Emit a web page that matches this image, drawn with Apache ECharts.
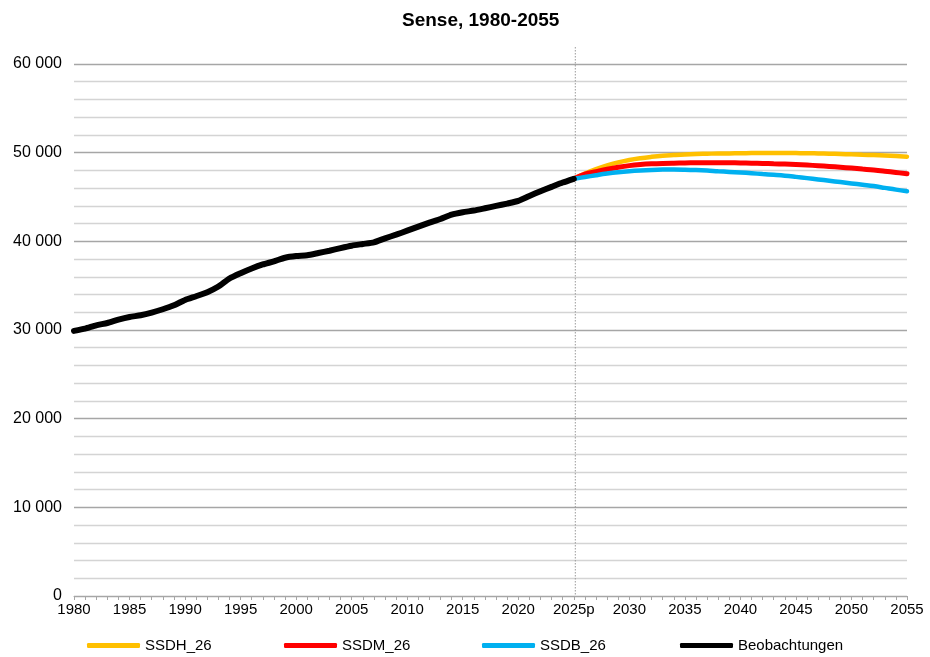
<!DOCTYPE html>
<html>
<head>
<meta charset="utf-8">
<script src="https://cdn.jsdelivr.net/npm/echarts@6/dist/echarts.min.js"></script>
<style>
  html, body { margin: 0; padding: 0; background: #fff; }
  #chart { width: 930px; height: 657px; }
</style>
</head>
<body>
<div id="chart"></div>
<script>
// categories (2025 is marked as provisional)
const years = [
  "1980", "1981", "1982", "1983", "1984", "1985", "1986", "1987", "1988", "1989",
  "1990", "1991", "1992", "1993", "1994", "1995", "1996", "1997", "1998", "1999",
  "2000", "2001", "2002", "2003", "2004", "2005", "2006", "2007", "2008", "2009",
  "2010", "2011", "2012", "2013", "2014", "2015", "2016", "2017", "2018", "2019",
  "2020", "2021", "2022", "2023", "2024", "2025p", "2026", "2027", "2028", "2029",
  "2030", "2031", "2032", "2033", "2034", "2035", "2036", "2037", "2038", "2039",
  "2040", "2041", "2042", "2043", "2044", "2045", "2046", "2047", "2048", "2049",
  "2050", "2051", "2052", "2053", "2054", "2055",
];

// observations 1980 - 2025
const obsYears = years.slice(0, 46);
const beobachtungen = [
  29900, 30150, 30530, 30790, 31170, 31470, 31660, 31960, 32340, 32790,
  33390, 33810, 34260, 34900, 35810, 36410, 36940, 37390, 37740, 38150,
  38340, 38430, 38680, 38940, 39240, 39510, 39700, 39890, 40340, 40750,
  41200, 41660, 42110, 42520, 43010, 43280, 43470, 43730, 44000, 44260,
  44560, 45120, 45650, 46140, 46630, 47050,
];

// scenarios 2025 - 2055
const projYears = years.slice(45);
const ssdh = [
  47050, 47650, 48150, 48550, 48900, 49180, 49380, 49530, 49650, 49730,
  49800, 49850, 49880, 49910, 49920, 49930, 49950, 49960, 49960, 49960,
  49950, 49940, 49910, 49880, 49850, 49810, 49770, 49730, 49680, 49620,
  49550,
];
const ssdm = [
  47050, 47580, 47860, 48130, 48360, 48540, 48660, 48740, 48790, 48820,
  48840, 48860, 48870, 48870, 48860, 48840, 48820, 48790, 48750, 48710,
  48660, 48600, 48530, 48450, 48360, 48260, 48150, 48040, 47910, 47770,
  47620,
];
const ssdb = [
  47050, 47250, 47460, 47650, 47800, 47910, 47990, 48050, 48090, 48100,
  48080, 48040, 47980, 47900, 47830, 47760, 47680, 47590, 47500, 47400,
  47270, 47130, 46980, 46830, 46680, 46530, 46380, 46230, 46030, 45830,
  45660,
];

const seriesNames = ["SSDH_26", "SSDM_26", "SSDB_26", "Beobachtungen"];
const legendLeft = [82, 279, 477, 675];

const font = "'Liberation Sans', Arial, sans-serif";

function pairs(cats, vals) {
  return cats.map((c, i) => [c, vals[i]]);
}

const chart = echarts.init(document.getElementById("chart"));

const option = {
  animation: false,
  title: {
    text: "Sense, 1980-2055",
    left: 397,
    top: 6,
    textStyle: { fontFamily: font, fontSize: 19, fontWeight: "bold", color: "#000" },
  },
  grid: { left: 74, right: 23, top: 64, bottom: 61 },
  legend: seriesNames.map((name, i) => ({
    left: legendLeft[i],
    top: 633,
    itemWidth: 53,
    itemHeight: 5,
    itemTextGap: 2,
    icon: "roundRect",
    textStyle: { fontFamily: font, fontSize: 15, color: "#000" },
    data: [name],
  })),
  xAxis: {
    type: "category",
    data: years,
    boundaryGap: false,
    axisLine: { lineStyle: { color: "#a6a6a6", width: 1 } },
    axisTick: { show: true, interval: 0, length: 4, lineStyle: { color: "#a6a6a6" } },
    axisLabel: {
      interval: 4,
      margin: 6,
      fontFamily: font,
      fontSize: 15,
      color: "#000",
    },
    splitLine: { show: false },
  },
  yAxis: {
    type: "value",
    min: 0,
    max: 60000,
    interval: 2000,
    axisLine: { show: false },
    axisTick: { show: false },
    axisLabel: {
      margin: 12,
      fontFamily: font,
      fontSize: 16,
      color: "#000",
      formatter: (v) => (v % 10000 === 0 ? String(v).replace(/\B(?=(\d{3})+(?!\d))/g, " ") : ""),
    },
    splitLine: {
      lineStyle: {
        width: 1.3,
        color: ["#a6a6a6", "#d4d4d4", "#d4d4d4", "#d4d4d4", "#d4d4d4"],
      },
    },
  },
  series: [
    {
      name: "SSDH_26",
      type: "line",
      data: pairs(projYears, ssdh),
      smooth: 0.4,
      showSymbol: false,
      lineStyle: { color: "#FFC000", width: 4.5, cap: "round" },
      itemStyle: { color: "#FFC000" },
    },
    {
      name: "SSDM_26",
      type: "line",
      data: pairs(projYears, ssdm),
      smooth: 0.4,
      showSymbol: false,
      lineStyle: { color: "#FF0000", width: 5, cap: "round" },
      itemStyle: { color: "#FF0000" },
    },
    {
      name: "SSDB_26",
      type: "line",
      data: pairs(projYears, ssdb),
      smooth: 0.4,
      showSymbol: false,
      lineStyle: { color: "#00B0F0", width: 4.5, cap: "round" },
      itemStyle: { color: "#00B0F0" },
    },
    {
      name: "Beobachtungen",
      type: "line",
      data: pairs(obsYears, beobachtungen),
      smooth: 0.2,
      showSymbol: false,
      lineStyle: { color: "#000", width: 6, cap: "round", join: "round" },
      itemStyle: { color: "#000" },
    },
  ],
};

chart.setOption(option);

// dotted marker at the start of the projection, reaching a bit above the plot
const px = chart.convertToPixel({ xAxisIndex: 0 }, "2025p");
const yBottom = chart.convertToPixel({ yAxisIndex: 0 }, 0);
const yTop = chart.convertToPixel({ yAxisIndex: 0 }, 60000) - 17;
chart.setOption({
  graphic: [
    {
      type: "line",
      z: 1,
      shape: { x1: px + 1.5, y1: yTop, x2: px + 1.5, y2: yBottom },
      style: { stroke: "#9a9a9a", lineWidth: 1, lineDash: [1.5, 1.5] },
    },
  ],
});
</script>
</body>
</html>
